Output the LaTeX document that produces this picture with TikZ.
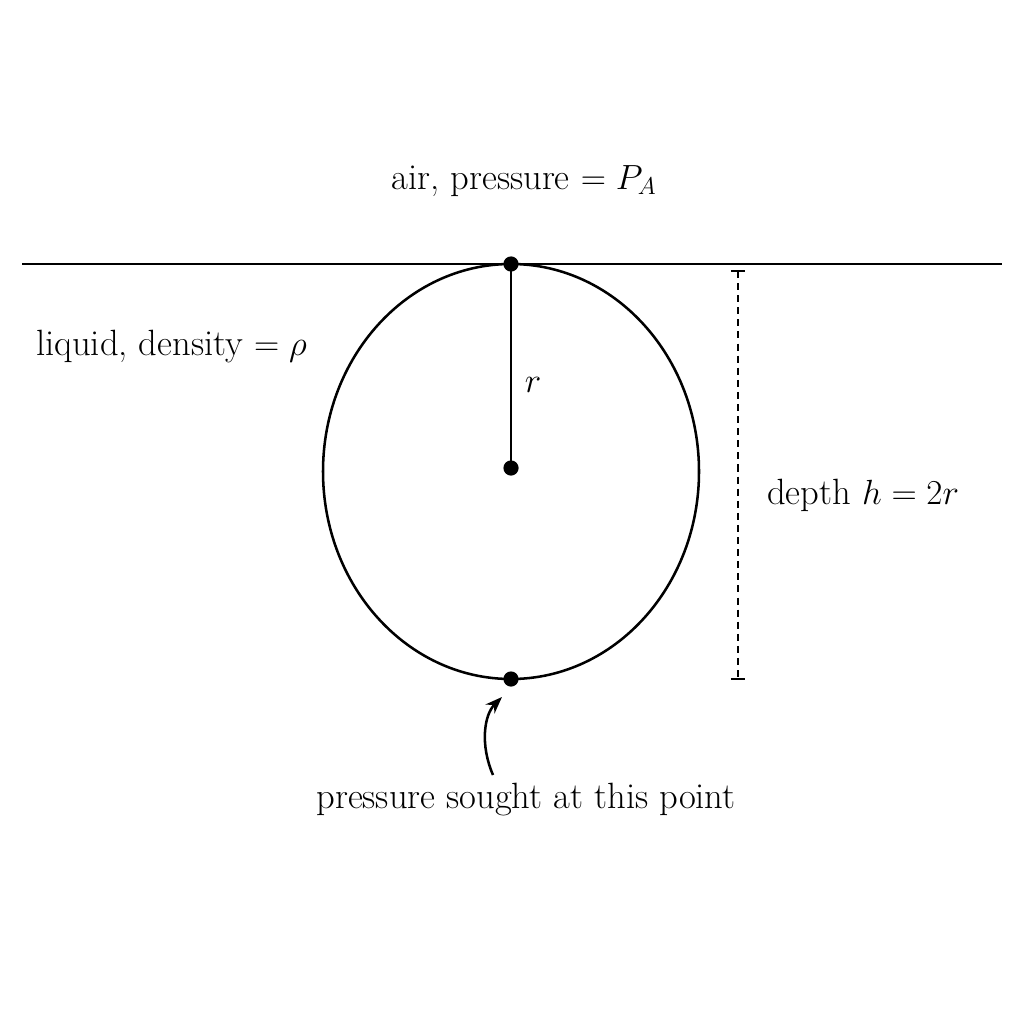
\documentclass[tikz,border=0pt]{standalone}
\usetikzlibrary{arrows.meta}
\begin{document}
\begin{tikzpicture}[x=0.025cm,y=-0.025cm,
  lbl/.style={font=\fontsize{26}{31}\selectfont, inner sep=0pt},
  dot/.style={circle, fill=black, inner sep=0pt, minimum size=0.38cm}]
\useasboundingbox (0,0) rectangle (1024,1024);
% surface
\coordinate (sl) at (22,264);
\coordinate (sr) at (1002,264);
\draw[line width=2pt] (sl) -- (sr);
% bubble
\coordinate (c0) at (511,471.5);
\draw[line width=1.8pt] (c0) ellipse [x radius=188, y radius=207.5];
\node[dot] (top) at (511,264) {};
\node[dot] (ctr) at (511,468) {};
\node[dot] (bot) at (511,679) {};
\draw[line width=1.6pt] (top.center) -- (ctr.center);
\node[lbl] (rl) at (533,385) {$r$};
% depth
\coordinate (dt) at (738,271);
\coordinate (db) at (738,679);
\draw[line width=1.1pt, dash pattern=on 5pt off 3.6pt] (dt) -- (db);
\draw[line width=1.3pt] ([xshift=-5pt]dt) -- ([xshift=5pt]dt);
\draw[line width=1.3pt] ([xshift=-5pt]db) -- ([xshift=5pt]db);
% labels
\node[lbl] (air) at (524,181) {air, pressure $=P_A$};
\node[lbl, anchor=west] (liq) at (36,347) {liquid, density $=\rho$};
\node[lbl, anchor=west] (dep) at (767,495) {depth $h=2r$};
\node[lbl] (ps) at (526,800) {pressure sought at this point};
\coordinate (as) at (493,775);
\draw[line width=1.8pt, -{Stealth[length=12pt,width=9pt]}] (as) .. controls (480,745) and (484,715) .. (502,697);
\end{tikzpicture}
\end{document}
